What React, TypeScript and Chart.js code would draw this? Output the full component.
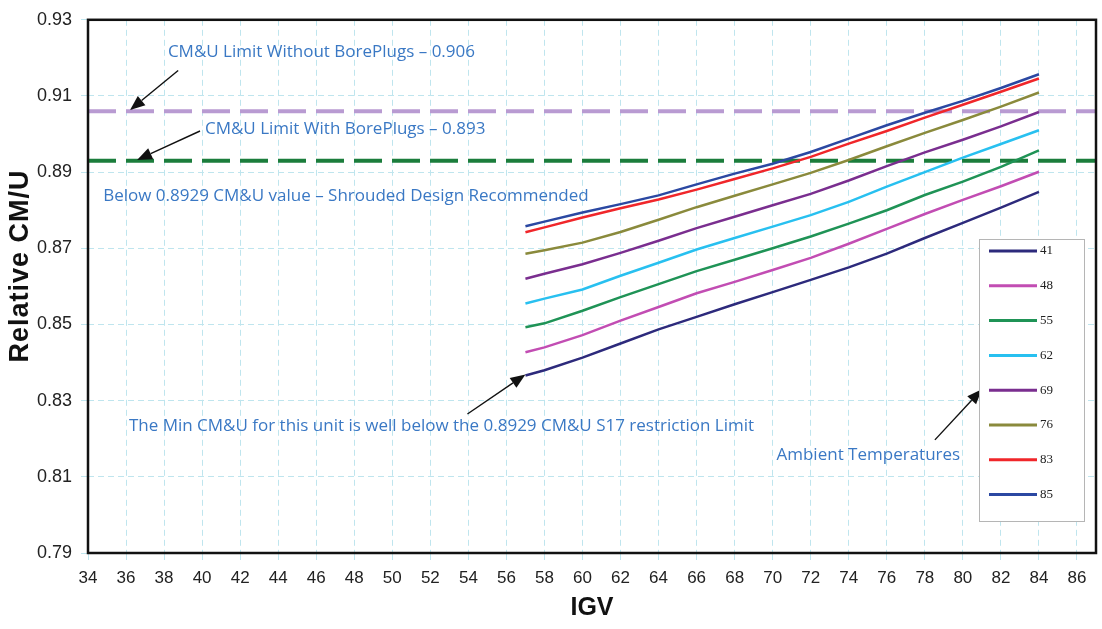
import React, { useEffect, useRef } from 'react';
import { Chart, registerables } from 'chart.js';

Chart.register(...registerables);

// ---- data ----
const igv = [57, 58, 60, 62, 64, 66, 68, 70, 72, 74, 76, 78, 80, 82, 84];
const amb41 = [0.8366, 0.838, 0.8413, 0.845, 0.8487, 0.852, 0.8553, 0.8585, 0.8617, 0.865, 0.8686, 0.8727, 0.8767, 0.8807, 0.8848];
const amb48 = [0.8427, 0.844, 0.8472, 0.851, 0.8546, 0.8582, 0.8612, 0.8643, 0.8675, 0.8712, 0.8751, 0.879, 0.8827, 0.8863, 0.8901];
const amb55 = [0.8493, 0.8503, 0.8536, 0.8572, 0.8606, 0.864, 0.867, 0.87, 0.8731, 0.8765, 0.88, 0.884, 0.8875, 0.8914, 0.8957];
const amb62 = [0.8555, 0.8568, 0.8592, 0.8628, 0.8662, 0.8697, 0.8727, 0.8757, 0.8787, 0.8822, 0.8862, 0.89, 0.8938, 0.8974, 0.901];
const amb69 = [0.862, 0.8633, 0.8658, 0.8688, 0.872, 0.8753, 0.8783, 0.8813, 0.8843, 0.8878, 0.8916, 0.8952, 0.8985, 0.902, 0.9058];
const amb76 = [0.8686, 0.8695, 0.8715, 0.8743, 0.8775, 0.8808, 0.8838, 0.8868, 0.8898, 0.8932, 0.8968, 0.9003, 0.9037, 0.9072, 0.9109];
const amb83 = [0.8742, 0.8755, 0.8781, 0.8805, 0.8828, 0.8854, 0.8882, 0.891, 0.894, 0.8975, 0.9008, 0.9043, 0.9077, 0.9111, 0.9146];
const amb85 = [0.8758, 0.877, 0.8794, 0.8816, 0.8839, 0.8868, 0.8896, 0.8922, 0.8953, 0.8988, 0.9023, 0.9056, 0.9087, 0.9121, 0.9157];

const seriesLabels = ['41', '48', '55', '62', '69', '76', '83', '85'];
const seriesValues = [amb41, amb48, amb55, amb62, amb69, amb76, amb83, amb85];
const seriesColors = ['#2d2a7c', '#c24db3', '#1f9356', '#28c0f0', '#7a2e8f', '#8a8a3c', '#f0262a', '#2b48a2'];

const limitWithout = 0.906;
const limitWith = 0.893;

const xMin = 34;
const xMax = 87;
const xStep = 2;
const yMin = 0.79;
const yMax = 0.93;
const yStep = 0.02;

const notes = [
  { text: 'CM&U Limit Without BorePlugs \u2013 0.906', x: 38.2, y: 0.9214 },
  { text: 'CM&U Limit With BorePlugs \u2013 0.893', x: 40.15, y: 0.9013 },
  { text: 'Below 0.8929 CM&U value \u2013 Shrouded Design Recommended', x: 34.8, y: 0.8836 },
  { text: 'The Min CM&U for this unit is well below the 0.8929 CM&U S17 restriction Limit', x: 36.15, y: 0.8234 },
  { text: 'Ambient Temperatures', x: 70.2, y: 0.8156 },
];

const arrows = [
  { x1: 38.74, y1: 0.9167, x2: 36.21, y2: 0.9063 },
  { x1: 39.89, y1: 0.9008, x2: 36.58, y2: 0.8932 },
  { x1: 53.95, y1: 0.8265, x2: 57.0, y2: 0.8369 },
  { x1: 78.53, y1: 0.8197, x2: 81.0, y2: 0.833 },
];

const SANS = "'Liberation Sans', Arial, sans-serif";
const NOTE_FONT = "500 17px 'Open Sans', 'Noto Sans', sans-serif";
const NOTE_COLOR = '#3a78c4';
const GRID_COLOR = '#bfe5ee';

const decorPlugin = {
  id: 'decor',
  afterDatasetsDraw(chart: any) {
    const { ctx, chartArea, scales } = chart;
    const xs = scales.x;
    const ys = scales.y;
    ctx.save();

    // plot frame
    ctx.strokeStyle = '#111';
    ctx.lineWidth = 2.5;
    ctx.setLineDash([]);
    ctx.strokeRect(chartArea.left, chartArea.top, chartArea.right - chartArea.left, chartArea.bottom - chartArea.top);

    // notes
    ctx.font = NOTE_FONT;
    ctx.fillStyle = NOTE_COLOR;
    ctx.textAlign = 'left';
    ctx.textBaseline = 'middle';
    notes.forEach((n) => {
      ctx.fillText(n.text, xs.getPixelForValue(n.x), ys.getPixelForValue(n.y));
    });

    // arrows
    ctx.strokeStyle = '#111';
    ctx.fillStyle = '#111';
    ctx.lineWidth = 1.4;
    arrows.forEach((a) => {
      const px1 = xs.getPixelForValue(a.x1);
      const py1 = ys.getPixelForValue(a.y1);
      const px2 = xs.getPixelForValue(a.x2);
      const py2 = ys.getPixelForValue(a.y2);
      const ang = Math.atan2(py2 - py1, px2 - px1);
      const hl = 15;
      const hw = 6;
      const bx = px2 - hl * Math.cos(ang);
      const by = py2 - hl * Math.sin(ang);
      ctx.beginPath();
      ctx.moveTo(px1, py1);
      ctx.lineTo(bx, by);
      ctx.stroke();
      ctx.beginPath();
      ctx.moveTo(px2, py2);
      ctx.lineTo(bx + hw * Math.sin(ang), by - hw * Math.cos(ang));
      ctx.lineTo(bx - hw * Math.sin(ang), by + hw * Math.cos(ang));
      ctx.closePath();
      ctx.fill();
    });

    // legend
    const lx = 979;
    const ly = 239;
    const lw = 105;
    const lh = 282;
    ctx.fillStyle = '#ffffff';
    ctx.fillRect(lx, ly, lw, lh);
    ctx.strokeStyle = '#b5b5b5';
    ctx.lineWidth = 1;
    ctx.strokeRect(lx + 0.5, ly + 0.5, lw, lh);
    ctx.font = "13px 'Liberation Serif', 'DejaVu Serif', serif";
    ctx.textBaseline = 'middle';
    chart.data.datasets.forEach((ds: any) => {
      if (!ds.isSeries) return;
      const i = ds.seriesIndex;
      const y = ly + 12 + i * 34.8;
      ctx.strokeStyle = ds.borderColor;
      ctx.lineWidth = 3;
      ctx.beginPath();
      ctx.moveTo(lx + 10, y);
      ctx.lineTo(lx + 58, y);
      ctx.stroke();
      ctx.fillStyle = '#222';
      ctx.fillText(ds.label, lx + 61, y);
    });

    // y axis title
    ctx.save();
    ctx.translate(21, 266);
    ctx.rotate(-Math.PI / 2);
    ctx.font = `bold 27px ${SANS}`;
    (ctx as any).letterSpacing = '1px';
    ctx.fillStyle = '#111';
    ctx.textAlign = 'center';
    ctx.textBaseline = 'middle';
    ctx.fillText('Relative CM/U', 0, 0);
    ctx.restore();

    ctx.restore();
  },
};

export default function App() {
  const ref = useRef<HTMLCanvasElement | null>(null);

  useEffect(() => {
    document.body.style.margin = '0';
    if (!ref.current) return;

    const datasets: any[] = seriesLabels.map((lab, i) => ({
      label: lab,
      data: igv.map((x, j) => ({ x, y: seriesValues[i][j] })),
      borderColor: seriesColors[i],
      backgroundColor: seriesColors[i],
      borderWidth: 2.5,
      pointRadius: 0,
      tension: 0,
      fill: false,
      order: 1,
      isSeries: true,
      seriesIndex: i,
    }));
    datasets.push({
      label: 'Limit without BorePlugs',
      data: [{ x: xMin, y: limitWithout }, { x: xMax, y: limitWithout }],
      borderColor: '#b99bd2',
      borderWidth: 4,
      borderDash: [28, 10],
      pointRadius: 0,
      order: 2,
    });
    datasets.push({
      label: 'Limit with BorePlugs',
      data: [{ x: xMin, y: limitWith }, { x: xMax, y: limitWith }],
      borderColor: '#1b7d3c',
      borderWidth: 4,
      borderDash: [28, 10],
      pointRadius: 0,
      order: 2,
    });

    const chart = new Chart(ref.current, {
      type: 'line',
      data: { datasets },
      options: {
        animation: false,
        responsive: false,
        devicePixelRatio: 1,
        layout: { padding: { top: 16, right: 6, left: 0, bottom: 0 } },
        plugins: {
          legend: { display: false },
          tooltip: { enabled: false },
        },
        scales: {
          x: {
            type: 'linear',
            min: xMin,
            max: xMax,
            afterFit: (s: any) => {
              s.height = 76;
            },
            ticks: {
              stepSize: xStep,
              includeBounds: false,
              autoSkip: false,
              maxRotation: 0,
              padding: 8,
              color: '#222',
              font: { family: SANS, size: 17 },
            },
            grid: {
              color: GRID_COLOR,
              lineWidth: 1,
              drawTicks: true,
              tickLength: 7,
              tickColor: GRID_COLOR,
            },
            border: { display: false, dash: [6, 4] },
            title: {
              display: true,
              text: 'IGV',
              color: '#111',
              font: { family: SANS, size: 25, weight: 'bold' },
              padding: { top: 0, bottom: 6 },
            },
          },
          y: {
            type: 'linear',
            min: yMin,
            max: yMax,
            afterFit: (s: any) => {
              s.width = 88;
            },
            ticks: {
              stepSize: yStep,
              padding: 9,
              color: '#222',
              font: { family: SANS, size: 18 },
              callback: (v: any) => Number(v).toFixed(2),
            },
            grid: {
              color: GRID_COLOR,
              lineWidth: 1,
              drawTicks: true,
              tickLength: 7,
              tickColor: GRID_COLOR,
            },
            border: { display: false, dash: [6, 4] },
          },
        },
      },
      plugins: [decorPlugin],
    });

    return () => chart.destroy();
  }, []);

  return (
    <div style={{ width: 1102, height: 629, background: '#fff' }}>
      <canvas ref={ref} width={1102} height={629} style={{ width: 1102, height: 629, display: 'block' }} />
    </div>
  );
}
